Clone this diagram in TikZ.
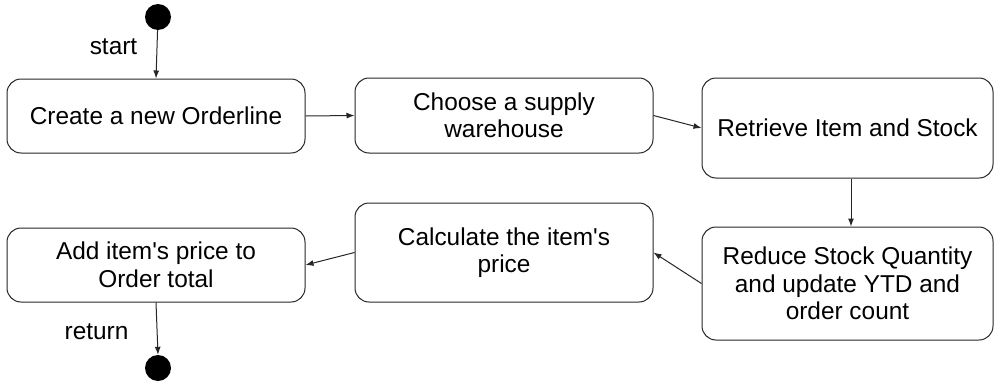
\documentclass[tikz,border=0pt]{standalone}
\usepackage{fontspec}
\setmainfont{Liberation Sans}[Ligatures=TeXOff]
\usetikzlibrary{arrows.meta}
\begin{document}
\begin{tikzpicture}[x=1pt,y=-1pt,
  act/.style={draw=black!85, line width=1pt, rounded corners=14pt, align=center,
    inner sep=0pt, font=\fontsize{24.4}{27.5}\selectfont},
  dot/.style={circle, fill=black, inner sep=0pt, minimum size=26pt},
  flow/.style={draw=black!85, line width=1pt, -{Latex[length=8pt,width=6pt]}},
  lbl/.style={font=\fontsize{24.4}{27.5}\selectfont, inner sep=0pt}]
\useasboundingbox (0,0) rectangle (994,383);
\node[dot] (start) at (158,17) {};
\node[dot] (end) at (158,368) {};
\node[act, minimum width=298pt, minimum height=74pt] (b1) at (156,116) {Create a new Orderline};
\node[act, minimum width=298pt, minimum height=75pt] (b2) at (504,115.5) {Choose a supply\\warehouse};
\node[act, minimum width=291pt, minimum height=100pt] (b3) at (847.5,128) {Retrieve Item and Stock};
\node[act, minimum width=291pt, minimum height=113pt] (b4) at (847.5,283.5) {Reduce Stock Quantity\\and update YTD and\\order count};
\node[act, minimum width=298pt, minimum height=99pt] (b5) at (504,252.5) {Calculate the item's\\price};
\node[act, minimum width=298pt, minimum height=74pt] (b6) at (156,265) {Add item's price to\\Order total};
\node[lbl] (ls) at (113.5,47) {start};
\node[lbl] (lr) at (96.5,332) {return};
\draw[flow] (start) -- (b1.north);
\draw[flow] (b1.east) -- (b2.west);
\draw[flow] (b2.east) -- (b3.west);
\draw[flow] ([xshift=3.5pt]b3.south) -- ([xshift=3.5pt]b4.north);
\draw[flow] (b4.west) -- (b5.east);
\draw[flow] (b5.west) -- (b6.east);
\draw[flow] (b6.south) -- (end.north);
\end{tikzpicture}
\end{document}
